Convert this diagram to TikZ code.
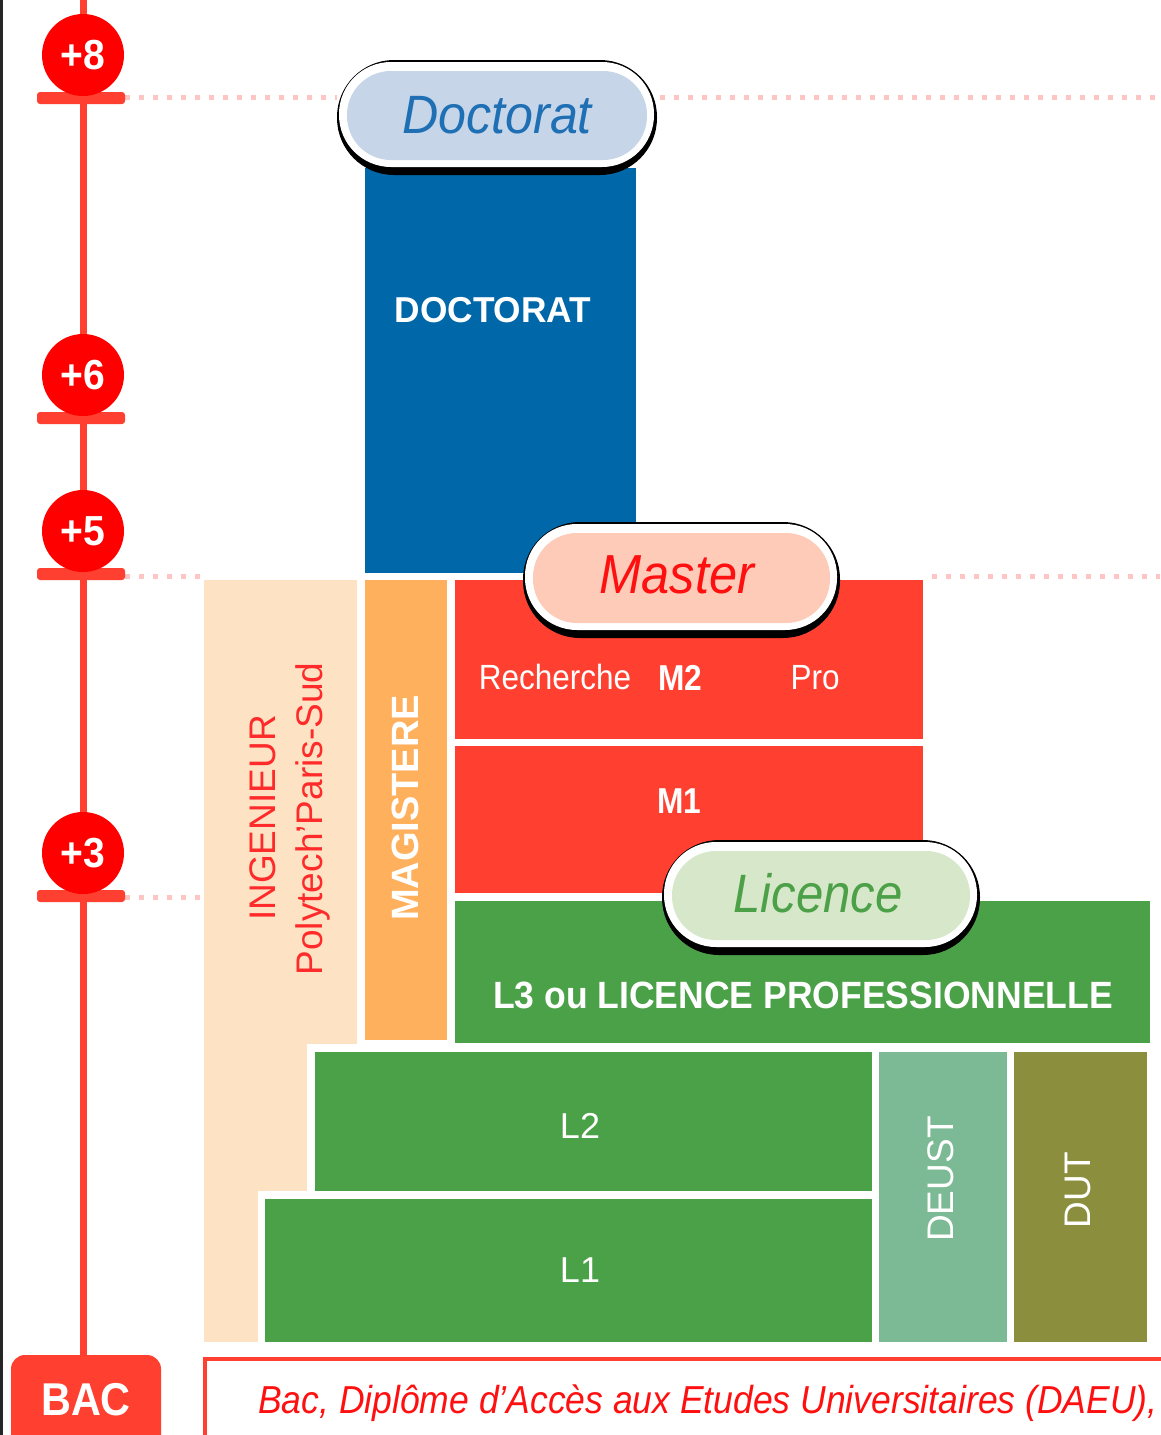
\documentclass[tikz,border=0pt]{standalone}
\usepackage{fontspec}
\setmainfont{Liberation Sans}
\newcommand\fsz[1]{\fontsize{#1}{#1}\selectfont}
\definecolor{tlred}{HTML}{FF4030}
\definecolor{circred}{HTML}{FF0000}
\definecolor{dotpink}{HTML}{FFC4C4}
\definecolor{docblue}{HTML}{0067A9}
\definecolor{docpill}{HTML}{C6D5E8}
\definecolor{doctext}{HTML}{1F6FB5}
\definecolor{masterpill}{HTML}{FDCBB8}
\definecolor{mastertext}{HTML}{FF1010}
\definecolor{licpill}{HTML}{D7E8CA}
\definecolor{lictext}{HTML}{4CA048}
\definecolor{blockred}{HTML}{FF4030}
\definecolor{peach}{HTML}{FDE3C4}
\definecolor{magorange}{HTML}{FFB05C}
\definecolor{lgreen}{HTML}{4BA147}
\definecolor{deustc}{HTML}{7BBA94}
\definecolor{dutc}{HTML}{8B8F3D}
\definecolor{ingred}{HTML}{FF2A2A}
\begin{document}
\begin{tikzpicture}[x=1pt,y=-1pt,
  blk/.style={inner sep=0pt, outer sep=0pt, anchor=north west, draw=none},
  wtxt/.style={text=white, inner sep=0pt, anchor=base},
  dotln/.style={draw=dotpink, line width=5pt, dash pattern=on 5pt off 9pt},
  yrcirc/.style={circle, fill=circred, minimum size=82pt, inner sep=0pt, text=white, font=\fsz{42}\bfseries},
  yrbar/.style={fill=tlred, rounded corners=3pt},
  pilltxt/.style={inner sep=0pt, anchor=base},
]
\useasboundingbox (0,0) rectangle (1160,1435);
\fill[white] (0,0) rectangle (1160,1435);
\fill[black!85] (0,0) rectangle (3,1435);

% dotted guide lines
\draw[dotln] (125,97) -- (337,97);
\draw[dotln] (660,97) -- (1160,97);
\draw[dotln] (125,576) -- (200,576);
\draw[dotln] (932,576) -- (1160,576);
\draw[dotln] (125,897) -- (200,897);

% BAC box and timeline
\node[blk, fill=tlred, rounded corners=14pt, minimum width=150pt, minimum height=110pt] (bac) at (11,1355) {};
\node[wtxt, font=\fsz{46}\bfseries] (bact) at (86,1415) {\scalebox{0.9}[1]{BAC}};
\coordinate (tltop) at (83,0);
\draw[tlred, line width=7pt] (tltop) -- (tltop |- bac.north);

% year markers
\fill[yrbar] (37,92) rectangle (125,104);
\node[yrcirc] (m8) at (83,55) {\scalebox{0.93}[1]{+8}};
\fill[yrbar] (37,412) rectangle (125,424);
\node[yrcirc] (m6) at (83,375) {\scalebox{0.93}[1]{+6}};
\fill[yrbar] (37,568) rectangle (125,580);
\node[yrcirc] (m5) at (83,531) {\scalebox{0.93}[1]{+5}};
\fill[yrbar] (37,890) rectangle (125,902);
\node[yrcirc] (m3) at (83,853) {\scalebox{0.93}[1]{+3}};

% blocks
\node[blk, fill=docblue, minimum width=271pt, minimum height=405pt] (docblk) at (365,168) {};
\node[wtxt, font=\fsz{36}\bfseries] (doct) at (493,322) {\scalebox{0.98}[1]{DOCTORAT}};

\node[blk, fill=peach, minimum width=153pt, minimum height=762pt] (ing) at (204,580) {};
\node[blk, fill=magorange, minimum width=82pt, minimum height=460pt] (mag) at (365,580) {};
\node[blk, fill=blockred, minimum width=468pt, minimum height=159pt] (m2) at (455,580) {};
\node[blk, fill=blockred, minimum width=468pt, minimum height=147pt] (m1) at (455,746) {};
\node[blk, fill=lgreen, minimum width=695pt, minimum height=142pt] (l3) at (455,901) {};
\fill[white] (307,1044) rectangle (872,1191);
\fill[white] (258,1191) rectangle (872,1342);
\node[blk, fill=lgreen, minimum width=557pt, minimum height=139pt] (l2) at (315,1052) {};
\node[blk, fill=lgreen, minimum width=607pt, minimum height=143pt] (l1) at (265,1199) {};
\node[blk, fill=deustc, minimum width=128pt, minimum height=290pt] (deust) at (879,1052) {};
\node[blk, fill=dutc, minimum width=133pt, minimum height=290pt] (dut) at (1014,1052) {};

% block texts
\node[wtxt, rotate=90, font=\fsz{38}\bfseries] (magt) at (418,808) {MAGISTERE};
\node[pilltxt, rotate=90, text=ingred, font=\fsz{37}] (ingt) at (275,818) {INGENIEUR};
\node[pilltxt, rotate=90, text=ingred, font=\fsz{37}] (polyt) at (322,819) {Polytech'Paris-Sud};
\node[wtxt, font=\fsz{35}] (recht) at (555,689) {\scalebox{0.9}[1]{Recherche}};
\node[wtxt, font=\fsz{36}\bfseries] (m2t) at (680,690) {\scalebox{0.88}[1]{M2}};
\node[wtxt, font=\fsz{35}] (prot) at (815,689) {\scalebox{0.9}[1]{Pro}};
\node[wtxt, font=\fsz{36}\bfseries] (m1t) at (679,813) {\scalebox{0.88}[1]{M1}};
\node[wtxt, font=\fsz{38}\bfseries] (l3t) at (803,1008) {\scalebox{0.935}[1]{L3 ou LICENCE PROFESSIONNELLE}};
\node[wtxt, font=\fsz{36}] (l2t) at (580,1138) {L2};
\node[wtxt, font=\fsz{36}] (l1t) at (580,1282) {L1};
\node[wtxt, rotate=90, font=\fsz{37}] (deustt) at (953,1179) {DEUST};
\node[wtxt, rotate=90, font=\fsz{37}] (dutt) at (1090,1190) {DUT};

% Doctorat pill
\fill[black, rounded corners=57pt] (337,60) rectangle (657,175);
\fill[white, rounded corners=52pt] (339,62) rectangle (654,167);
\fill[docpill, rounded corners=44pt] (347,71) rectangle (647,160);
\node[pilltxt, text=doctext, font=\fsz{54}\itshape] (docpillt) at (497,133) {\scalebox{0.93}[1]{Doctorat}};

% Master pill
\fill[black, rounded corners=57pt] (523,522) rectangle (840,638);
\fill[white, rounded corners=52pt] (525,524) rectangle (837,630);
\fill[masterpill, rounded corners=44pt] (533,533) rectangle (830,623);
\node[pilltxt, text=mastertext, font=\fsz{55}\itshape] (masterpillt) at (677,593) {\scalebox{0.92}[1]{Master}};

% Licence pill
\fill[black, rounded corners=57pt] (662,840) rectangle (980,955);
\fill[white, rounded corners=52pt] (664,842) rectangle (977,947);
\fill[licpill, rounded corners=44pt] (672,851) rectangle (970,940);
\node[pilltxt, text=lictext, font=\fsz{54}\itshape] (licpillt) at (818,912) {\scalebox{0.91}[1]{Licence}};

% bottom box
\draw[tlred, line width=4pt] (205,1480) |- (1200,1359);
\node[anchor=base west, inner sep=0pt, text=mastertext, font=\fsz{39}\itshape] (bactxt) at (258,1413) {\scalebox{0.91}[1]{Bac, Diplôme d'Accès aux Etudes Universitaires (DAEU),}};
\end{tikzpicture}
\end{document}
